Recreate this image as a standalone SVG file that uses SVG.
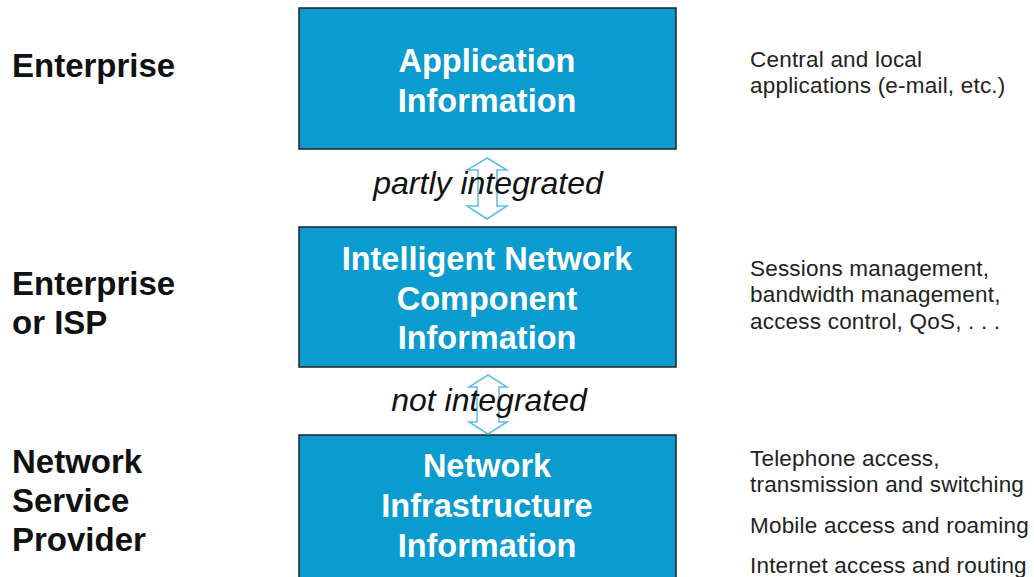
<svg xmlns="http://www.w3.org/2000/svg" width="1034" height="577" viewBox="0 0 1034 577">
  <style>
    .box { fill: #0A9BCF; stroke: #222; stroke-width: 1.5; }
    .boxtxt { font-family: "Liberation Sans", Arial, sans-serif; font-weight: bold; font-size: 32.5px; fill: #fff; text-anchor: middle; }
    .side { font-family: "Liberation Sans", Arial, sans-serif; font-weight: bold; font-size: 33px; fill: #111; }
    .note { font-family: "Liberation Sans", Arial, sans-serif; font-size: 22.5px; letter-spacing: 0.2px; fill: #222; }
    .link { font-family: "Liberation Sans", Arial, sans-serif; font-style: italic; font-size: 32px; fill: #111; text-anchor: middle; }
    .dbl { fill: #fff; stroke: #5BBDE8; stroke-width: 1.5; stroke-linejoin: miter; }
  </style>

  <rect width="1034" height="577" fill="#fff"/>

  <!-- layer names on the left -->
  <g id="layer-labels">
    <text class="side" x="12" y="77">Enterprise</text>
    <text class="side" x="12" y="295">Enterprise</text>
    <text class="side" x="12" y="334">or ISP</text>
    <text class="side" x="12" y="473">Network</text>
    <text class="side" x="12" y="512">Service</text>
    <text class="side" x="12" y="551">Provider</text>
  </g>

  <!-- information layers -->
  <g id="app-info">
    <rect class="box" x="299" y="8" width="377" height="141"/>
    <text class="boxtxt" x="487" y="72">Application</text>
    <text class="boxtxt" x="487" y="112">Information</text>
  </g>

  <g id="inc-info">
    <rect class="box" x="299" y="227" width="377" height="140"/>
    <text class="boxtxt" x="487" y="270">Intelligent Network</text>
    <text class="boxtxt" x="487" y="310">Component</text>
    <text class="boxtxt" x="487" y="349">Information</text>
  </g>

  <g id="infra-info">
    <rect class="box" x="299" y="435" width="377" height="150"/>
    <text class="boxtxt" x="487" y="477">Network</text>
    <text class="boxtxt" x="487" y="517">Infrastructure</text>
    <text class="boxtxt" x="487" y="557">Information</text>
  </g>

  <!-- double-headed links between layers -->
  <g id="connectors">
    <path class="dbl" d="M487,158 L507,170 L497,170 L497,206 L507,206 L487,219 L467,206 L478,206 L478,170 L467,170 Z"/>
    <text class="link" x="488" y="194">partly integrated</text>
    <path class="dbl" d="M488,375 L507,387 L499,387 L499,422 L507,422 L488,434 L469,422 L477,422 L477,387 L469,387 Z"/>
    <text class="link" x="489" y="411">not integrated</text>
  </g>

  <!-- descriptions on the right -->
  <g id="notes">
    <text class="note" x="750" y="67">Central and local</text>
    <text class="note" x="750" y="93">applications (e-mail, etc.)</text>
    <text class="note" x="750" y="276">Sessions management,</text>
    <text class="note" x="750" y="302">bandwidth management,</text>
    <text class="note" x="750" y="329">access control, QoS, . . .</text>
    <text class="note" x="750" y="466">Telephone access,</text>
    <text class="note" x="750" y="492">transmission and switching</text>
    <text class="note" x="750" y="533">Mobile access and roaming</text>
    <text class="note" x="750" y="573">Internet access and routing</text>
  </g>
</svg>
